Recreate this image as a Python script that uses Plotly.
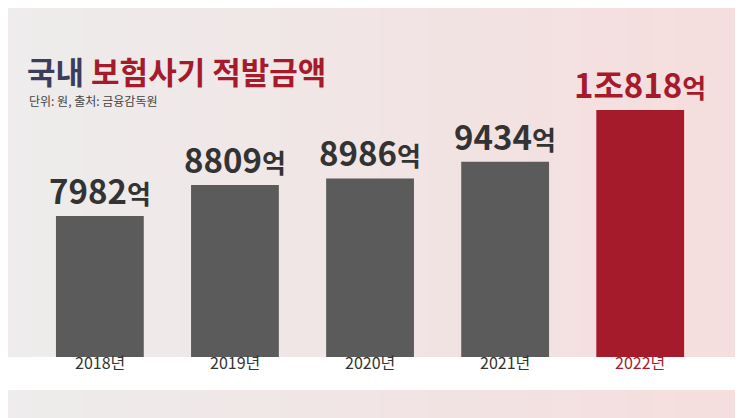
import plotly.graph_objects as go

years = ["2018년", "2019년", "2020년", "2021년", "2022년"]
values = [7982, 8809, 8986, 9434, 10818]
labels = ["7982", "8809", "8986", "9434", "1조818"]
bar_colors = ["#5b5b5b", "#5b5b5b", "#5b5b5b", "#5b5b5b", "#a51b2c"]

fig = go.Figure(go.Bar(
    x=list(range(len(years))), y=values, width=0.65,
    marker_color=bar_colors, marker_line_width=0,
))

# soft gradient background, grey on the left to pink on the right
shapes = []
n = 30
for i in range(n):
    t = i / (n - 1)
    r = int(238 + 8 * t)
    g = int(236 - 14 * t)
    b = int(236 - 14 * t)
    shapes.append(dict(type="rect", xref="paper", yref="paper", layer="below",
                       x0=i / n, x1=(i + 1) / n + 0.002, y0=-0.3, y1=1.3,
                       fillcolor=f"rgb({r},{g},{b})", line_width=0))
# white strip for year labels
shapes.append(dict(type="rect", xref="paper", yref="paper", layer="below",
                   x0=-0.1, x1=1.1, y0=-0.114, y1=0, fillcolor="white", line_width=0))

annotations = [
    dict(xref="paper", yref="paper", x=0.023, y=0.993, xanchor="left", yanchor="middle",
         showarrow=False,
         text="<b><span style='color:#3b3d5c'>국내</span> <span style='color:#a51b2c'>보험사기 적발금액</span></b>",
         font=dict(size=31, family="Noto Sans CJK KR")),
    dict(xref="paper", yref="paper", x=0.026, y=0.886, xanchor="left", yanchor="middle",
         showarrow=False, text="단위: 원, 출처: 금융감독원",
         font=dict(size=12, color="#444", family="Noto Sans CJK KR")),
]
for i, (v, lab) in enumerate(zip(values, labels)):
    color = "#a51b2c" if i == len(values) - 1 else "#333"
    annotations.append(dict(
        x=i, y=v, yanchor="bottom", yshift=0, showarrow=False,
        text=f"<b>{lab}<span style='font-size:26px'>억</span></b>",
        font=dict(size=33, color=color, family="Noto Sans CJK KR")))
for i, yr in enumerate(years):
    color = "#a51b2c" if i == len(years) - 1 else "#333"
    annotations.append(dict(
        x=i, xref="x", y=-0.066, yref="paper", showarrow=False,
        text=yr, font=dict(size=16, color=color, family="Noto Sans CJK KR")))

fig.update_layout(
    width=743, height=418,
    margin=dict(l=0, r=0, t=60, b=69),
    paper_bgcolor="#efecec", plot_bgcolor="rgba(0,0,0,0)",
    showlegend=False, shapes=shapes, annotations=annotations,
    xaxis=dict(range=[-0.68, 4.82], visible=False),
    yaxis=dict(range=[4210, 11941], visible=False),
)

fig.write_html("out.html")
